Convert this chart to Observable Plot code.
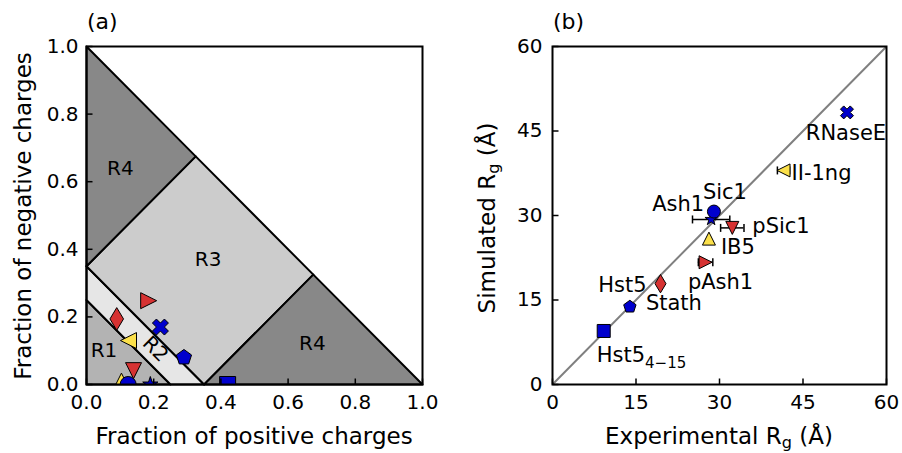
<!DOCTYPE html>
<html><head><meta charset="utf-8">
<script src="https://cdn.jsdelivr.net/npm/d3@7"></script>
<script src="https://cdn.jsdelivr.net/npm/@observablehq/plot@0.6"></script>
<style>
body{margin:0;background:#fff;}
#chart{position:relative;width:902px;height:453px;overflow:hidden;font-family:"DejaVu Sans";}
#chart svg{position:absolute;top:0;}
</style></head><body><div id="chart"></div>
<script>
// ---- data ----
const proteins = ["Hst5₄₋₁₅","Stath","Hst5","pAsh1","IB5","Ash1","Sic1","pSic1","II-1ng","RNaseE"];
const fracPositive = [0.42, 0.29, 0.09, 0.185, 0.104, 0.19, 0.124, 0.14, 0.125, 0.22];
const fracNegative = [0.0, 0.08, 0.194, 0.248, 0.01, 0.0, 0.0, 0.041, 0.13, 0.17];
const expRg    = [9.2, 13.9, 19.4, 27.5, 28.1, 28.5, 29.0, 32.3, 41.5, 52.9];
const expRgErr = [0, 0, 0, 1.3, 0, 3.35, 0, 2.1, 1.1, 0];
const simRg    = [9.5, 13.8, 17.9, 21.7, 25.9, 29.3, 30.7, 27.8, 38.0, 48.3];
const markers  = ["square","pentagon","thinDiamond","triangleRight","triangleUp","star","circle","triangleDown","triangleLeft","filledX"];
const markerColors = ["blue","blue","red","red","yellow","blue","blue","red","yellow","blue"];

const fractionTicks = [0, 0.2, 0.4, 0.6, 0.8, 1.0];
const rgTicks = [0, 15, 30, 45, 60];

// Das–Pappu diagram regions (fraction positive, fraction negative)
const regionR1 = [[0,0],[0.25,0],[0,0.25],[0,0]];
const regionR2 = [[0.25,0],[0.35,0],[0,0.35],[0,0.25],[0.25,0]];
const regionR3 = [[0.35,0],[0.675,0.325],[0.325,0.675],[0,0.35],[0.35,0]];
const regionR4a = [[0,0.35],[0.325,0.675],[0,1],[0,0.35]];
const regionR4b = [[0.35,0],[1,0],[0.675,0.325],[0.35,0]];
const regionNames = ["R1","R2","R3","R4","R4"];
const regionLabelFp = [0.052, 0.205, 0.362, 0.101, 0.672];
const regionLabelFm = [0.10, 0.105, 0.369, 0.638, 0.12];
const regionLabelRotate = [0, 45, 0, 0, 0];

const diagonal = [[0,0],[60,60]];

// label placement next to each marker (annotation offsets)
const labelPlacement = [
  {dx:-7, dy:24, anchor:"start"},
  {dx:16, dy:-3, anchor:"start"},
  {dx:-14, dy:2, anchor:"end"},
  {dx:15, dy:20, anchor:"middle"},
  {dx:12, dy:9, anchor:"start"},
  {dx:-7, dy:-15, anchor:"end"},
  {dx:11, dy:-19, anchor:"middle"},
  {dx:20, dy:-2, anchor:"start"},
  {dx:8, dy:3, anchor:"start"},
  {dx:-1, dy:21, anchor:"middle"}
];

// ---- styling ----
const palette = {blue:"#0000cd", red:"#d63232", yellow:"#fbe04a"};
const regionFill = ["#b3b3b3","#e6e6e6","#cccccc","#888888","#888888"];

function poly(ctx, pts){ ctx.moveTo(pts[0][0],pts[0][1]); for(let k=1;k<pts.length;k++) ctx.lineTo(pts[k][0],pts[k][1]); ctx.closePath(); }
const R = s => Math.sqrt(s/Math.PI);
const shapes = {
  square:{draw(c,s){const h=R(s); poly(c,[[-h,-h],[h,-h],[h,h],[-h,h]]);}},
  circle:{draw(c,s){const h=R(s); c.moveTo(h,0); c.arc(0,0,h,0,2*Math.PI); c.closePath();}},
  triangleUp:{draw(c,s){const h=R(s); poly(c,[[0,-h],[h,h],[-h,h]]);}},
  triangleDown:{draw(c,s){const h=R(s); poly(c,[[0,h],[h,-h],[-h,-h]]);}},
  triangleRight:{draw(c,s){const h=R(s); poly(c,[[h,0],[-h,-h],[-h,h]]);}},
  triangleLeft:{draw(c,s){const h=R(s); poly(c,[[-h,0],[h,-h],[h,h]]);}},
  pentagon:{draw(c,s){const h=R(s); const p=[]; for(let k=0;k<5;k++){const a=-Math.PI/2+k*2*Math.PI/5; p.push([h*Math.cos(a),h*Math.sin(a)]);} poly(c,p);}},
  thinDiamond:{draw(c,s){const h=R(s)*1.414; poly(c,[[0,-h],[0.6*h,0],[0,h],[-0.6*h,0]]);}},
  star:{draw(c,s){const h=R(s); const p=[]; for(let k=0;k<10;k++){const a=-Math.PI/2+k*Math.PI/5; const rr=k%2?h*0.382:h; p.push([rr*Math.cos(a),rr*Math.sin(a)]);} poly(c,p);}},
  filledX:{draw(c,s){const h=R(s)/2; poly(c,[[-1,-2],[0,-1],[1,-2],[2,-1],[1,0],[2,1],[1,2],[0,1],[-1,2],[-2,1],[-1,0],[-2,-1]].map(([a,b])=>[a*h,b*h]));}},
  vline:{draw(c,s){const h=R(s); c.moveTo(0,-h); c.lineTo(0,h);}},
  tickUp:{draw(c,s){const h=R(s); c.moveTo(0,0); c.lineTo(0,-h);}},
  tickRight:{draw(c,s){const h=R(s); c.moveTo(0,0); c.lineTo(h,0);}}
};

const idx = proteins.map((_,i)=>i);
const style = {fontFamily:"DejaVu Sans", fontSize:"20px", color:"black", background:"transparent", overflow:"visible"};

// inward ticks drawn as tiny line symbols anchored to the frame
function inwardTicks(ticks){
  return [
    Plot.dot(ticks,{x:d=>d, frameAnchor:"bottom", symbol:shapes.tickUp, r:6, stroke:"black", strokeWidth:1.5, fill:"none"}),
    Plot.dot(ticks,{y:d=>d, frameAnchor:"left", symbol:shapes.tickRight, r:6, stroke:"black", strokeWidth:1.5, fill:"none"})
  ];
}

// ---- panel (a) ----
const regions = [regionR1, regionR2, regionR3, regionR4a, regionR4b];
const left = Plot.plot({
  width:451, height:453, marginLeft:86, marginRight:29, marginTop:46, marginBottom:69,
  x:{domain:[0,1]}, y:{domain:[0,1]}, style,
  marks:[
    ...regions.map((reg,k)=>Plot.line(reg,{x:d=>d[0], y:d=>d[1], fill:regionFill[k], stroke:"black", strokeWidth:2})),
    Plot.text(regionNames.map((_,k)=>k),{x:k=>regionLabelFp[k], y:k=>regionLabelFm[k], text:k=>regionNames[k], rotate:k=>regionLabelRotate[k], fontSize:20, fill:"black"}),
    ...idx.map(i=>Plot.dot([i],{x:i=>fracPositive[i], y:i=>fracNegative[i], symbol:shapes[markers[i]], r:8, fill:palette[markerColors[i]], stroke:"black", strokeWidth:1, clip:true})),
    Plot.axisX(fractionTicks,{tickSize:0, tickPadding:10, tickFormat:d3.format(".1f"), label:null}),
    Plot.axisY(fractionTicks,{tickSize:0, tickPadding:8, tickFormat:d3.format(".1f"), label:null}),
    ...inwardTicks(fractionTicks),
    Plot.frame({stroke:"black", strokeWidth:2})
  ]
});

// ---- panel (b) ----
const errIdx = idx.filter(i=>expRgErr[i]>0);
const right = Plot.plot({
  width:451, height:453, marginLeft:101, marginRight:16, marginTop:46, marginBottom:69,
  x:{domain:[0,60]}, y:{domain:[0,60]}, style,
  marks:[
    Plot.line(diagonal,{x:d=>d[0], y:d=>d[1], stroke:"#808080", strokeWidth:2, clip:true}),
    Plot.ruleY(errIdx,{y:i=>simRg[i], x1:i=>expRg[i]-expRgErr[i], x2:i=>expRg[i]+expRgErr[i], stroke:"black", strokeWidth:1.5}),
    Plot.dot(errIdx,{x:i=>expRg[i]-expRgErr[i], y:i=>simRg[i], symbol:shapes.vline, r:4, stroke:"black", strokeWidth:1.5, fill:"none"}),
    Plot.dot(errIdx,{x:i=>expRg[i]+expRgErr[i], y:i=>simRg[i], symbol:shapes.vline, r:4, stroke:"black", strokeWidth:1.5, fill:"none"}),
    ...idx.map(i=>Plot.dot([i],{x:i=>expRg[i], y:i=>simRg[i], symbol:shapes[markers[i]], r:6.5, fill:palette[markerColors[i]], stroke:"black", strokeWidth:1})),
    ...idx.map(i=>Plot.text([i],{x:i=>expRg[i], y:i=>simRg[i], text:i=>proteins[i], dx:labelPlacement[i].dx, dy:labelPlacement[i].dy, textAnchor:labelPlacement[i].anchor, fontSize:21, fill:"black"})),
    Plot.axisX(rgTicks,{tickSize:0, tickPadding:10, label:null}),
    Plot.axisY(rgTicks,{tickSize:0, tickPadding:10, label:null}),
    ...inwardTicks(rgTicks),
    Plot.frame({stroke:"black", strokeWidth:2})
  ]
});

const chart = document.getElementById("chart");
left.style.left = "0px"; right.style.left = "451px";
chart.appendChild(left); chart.appendChild(right);

// render subscript of the Hst5(4-15) label as a real tspan
d3.select(right).selectAll("text").each(function(){
  const el = d3.select(this);
  if (el.text() === proteins[0]) {
    el.text("");
    el.append("tspan").text("Hst5");
    el.append("tspan").text("4\u221215").attr("font-size", 15).attr("dy", 6);
  }
});

// axis titles & panel tags
function addText(svg, x, y, rot, parts, size, anchor="middle"){
  const t = d3.select(svg).append("text")
    .attr("transform", `translate(${x},${y}) rotate(${rot})`)
    .attr("text-anchor", anchor).attr("font-family","DejaVu Sans").attr("font-size", size).attr("fill","black");
  parts.forEach(p=>{
    const s = t.append("tspan").text(p.t);
    if (p.sub) s.attr("font-size", size*0.7).attr("dy", 4);
    if (p.after) s.attr("dy", -4);
  });
}
addText(left, 254, 444, 0, [{t:"Fraction of positive charges"}], 23);
addText(left, 31, 216, -90, [{t:"Fraction of negative charges"}], 23);
addText(left, 87, 29, 0, [{t:"(a)"}], 22, "start");
addText(right, 268, 444, 0, [{t:"Experimental R"},{t:"g",sub:true},{t:" (Å)",after:true}], 23);
addText(right, 44, 218, -90, [{t:"Simulated R"},{t:"g",sub:true},{t:" (Å)",after:true}], 23);
addText(right, 102, 29, 0, [{t:"(b)"}], 22, "start");
</script></body></html>
